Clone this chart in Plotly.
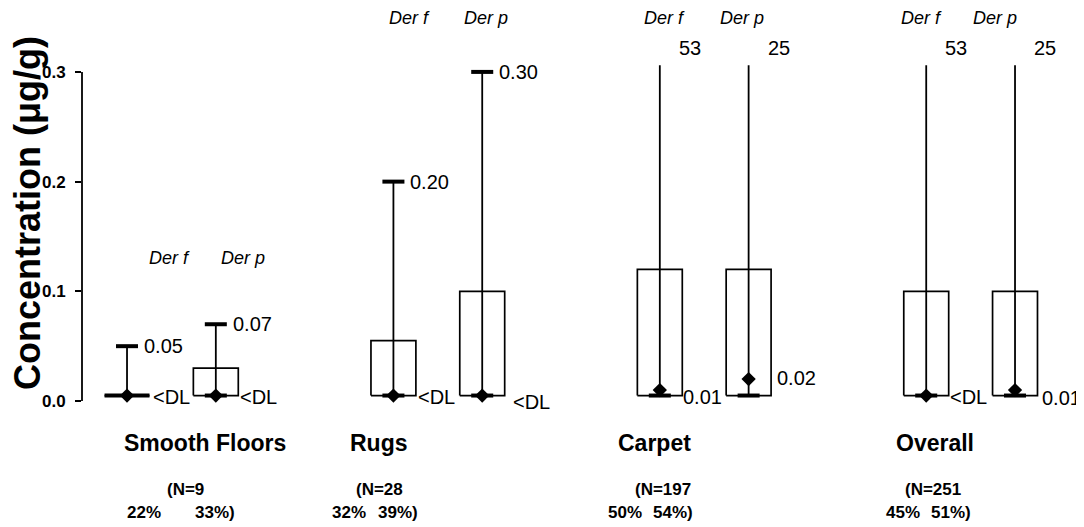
import plotly.graph_objects as go

# ---------------- data ----------------
groups = ["Smooth Floors", "Rugs", "Carpet", "Overall"]
n_samples = [9, 28, 197, 251]
allergens = ["Der f", "Der p"]
pct_detect_f = ["22%", "32%", "50%", "45%"]
pct_detect_p = ["33%)", "39%)", "54%)", "51%)"]

derf_min = [0.005, 0.005, 0.005, 0.005]
derf_q1 = [0.005, 0.005, 0.005, 0.005]
derf_median = [0.005, 0.005, 0.01, 0.005]
derf_q3 = [0.005, 0.055, 0.12, 0.10]
derf_max = [0.05, 0.20, 53, 53]
derf_median_label = ["<DL", "<DL", "0.01", "<DL"]

derp_min = [0.005, 0.005, 0.005, 0.005]
derp_q1 = [0.005, 0.005, 0.005, 0.005]
derp_median = [0.005, 0.005, 0.02, 0.01]
derp_q3 = [0.03, 0.10, 0.12, 0.10]
derp_max = [0.07, 0.30, 25, 25]
derp_median_label = ["<DL", "<DL", "0.02", "0.01"]

y_ticks = [0.0, 0.1, 0.2, 0.3]
y_ticktext = ["0.0", "0.1", "0.2", "0.3"]

# ---------------- style ----------------
FONT = "Liberation Sans, Arial, sans-serif"
PAGE_OFF = 8                      # default body margin of the html page
W, H = 1084 - PAGE_OFF, 527 - PAGE_OFF
ML, MR, MT, MB = 74, 20, 31, 115
UNIT = 88.8
XLO = -0.507
XHI = XLO + (W - ML - MR) / UNIT
YLO, YHI = -0.01, 0.33
AXIS_TOP = 0.3
TRUNC = 0.306          # off-scale whiskers stop just above the axis top
BOX_HW = 0.253
CAP_HW = 0.124


def paper_x(p):
    return (p - PAGE_OFF - ML) / (W - ML - MR)


def paper_y(p):
    return (H - MB - (p - PAGE_OFF)) / (H - MT - MB)


# label offsets (pixels)
der_label_dx = [[-1.5, 71.5], [-28.5, 48.5], [-39.5, 37.5], [-49.5, 24.5]]
der_label_py = [258, 18, 18, 18]
med_label_dx = [[2, -0.3], [0, 6], [-1.7, 4], [-0.3, 3]]
med_label_dy = [[-1.5, -1.5], [-1.5, -6.5], [-7, 1], [-1.5, -7.5]]
cat_dx = [34, -58.5, -50, -35.5]
n_dx = [-6.5, -83.5, -71.5, -67.5]
pf_dx = [-46.5, -107.5, -98.5, -86.5]
pp_dx = [21.5, -61.5, -53.5, -41.5]

fig = go.Figure()

series = [
    (derf_min, derf_q1, derf_median, derf_q3, derf_max, derf_median_label),
    (derp_min, derp_q1, derp_median, derp_q3, derp_max, derp_median_label),
]

annotations = []
VAL_FONT = dict(family=FONT, size=20, color="black")

for a, (mn, q1, med, q3, mx, mlab) in enumerate(series):
    for g in range(len(groups)):
        c = 3 * g + a
        top = mx[g] if mx[g] <= AXIS_TOP else TRUNC
        # box
        fig.add_trace(go.Scatter(
            x=[c - BOX_HW, c + BOX_HW, c + BOX_HW, c - BOX_HW, c - BOX_HW],
            y=[q1[g], q1[g], q3[g], q3[g], q1[g]],
            mode="lines", line=dict(color="black", width=1.7),
            hoverinfo="skip", showlegend=False))
        # whisker
        fig.add_trace(go.Scatter(
            x=[c, c], y=[mn[g], top], mode="lines",
            line=dict(color="black", width=1.8),
            hoverinfo="skip", showlegend=False))
        # min cap (box of zero height is drawn as a heavy bar)
        cap_w = BOX_HW if q1[g] == q3[g] else CAP_HW
        fig.add_trace(go.Scatter(
            x=[c - cap_w, c + cap_w], y=[mn[g], mn[g]], mode="lines",
            line=dict(color="black", width=4),
            hoverinfo="skip", showlegend=False))
        if mx[g] <= AXIS_TOP:
            fig.add_trace(go.Scatter(
                x=[c - CAP_HW, c + CAP_HW], y=[mx[g], mx[g]], mode="lines",
                line=dict(color="black", width=4),
                hoverinfo="skip", showlegend=False))
            annotations.append(dict(
                x=c, y=mx[g], xref="x", yref="y", text=f"{mx[g]:.2f}",
                xanchor="left", yanchor="middle", xshift=15, showarrow=False,
                font=VAL_FONT))
        else:
            annotations.append(dict(
                x=c, y=paper_y(48), xref="x", yref="paper", text=f"{mx[g]:g}",
                xanchor="center", yanchor="middle", xshift=30, showarrow=False,
                font=VAL_FONT))
        # median diamond
        fig.add_trace(go.Scatter(
            x=[c], y=[med[g]], mode="markers",
            marker=dict(symbol="diamond", size=11, color="black"),
            cliponaxis=False, hoverinfo="skip", showlegend=False))
        annotations.append(dict(
            x=c + BOX_HW, y=med[g], xref="x", yref="y", text=mlab[g],
            xanchor="left", yanchor="middle",
            xshift=med_label_dx[g][a], yshift=med_label_dy[g][a],
            showarrow=False, font=VAL_FONT))

for g, name in enumerate(groups):
    gc = 3 * g + 0.5
    for a, al in enumerate(allergens):
        annotations.append(dict(
            x=gc, y=paper_y(der_label_py[g]), xref="x", yref="paper",
            text=f"<i>{al}</i>", xanchor="center", yanchor="middle",
            xshift=der_label_dx[g][a], showarrow=False,
            font=dict(family=FONT, size=18, color="black")))
    annotations.append(dict(
        x=gc, y=paper_y(443), xref="x", yref="paper", text=f"<b>{name}</b>",
        xanchor="center", yanchor="middle", xshift=cat_dx[g], showarrow=False,
        font=dict(family=FONT, size=23, color="black")))
    annotations.append(dict(
        x=gc, y=paper_y(490), xref="x", yref="paper",
        text=f"<b>(N={n_samples[g]}</b>", xanchor="left", yanchor="middle",
        xshift=n_dx[g], showarrow=False,
        font=dict(family=FONT, size=17, color="black")))
    annotations.append(dict(
        x=gc, y=paper_y(512), xref="x", yref="paper",
        text=f"<b>{pct_detect_f[g]}</b>", xanchor="left", yanchor="middle",
        xshift=pf_dx[g], showarrow=False,
        font=dict(family=FONT, size=17, color="black")))
    annotations.append(dict(
        x=gc, y=paper_y(512), xref="x", yref="paper",
        text=f"<b>{pct_detect_p[g]}</b>", xanchor="left", yanchor="middle",
        xshift=pp_dx[g], showarrow=False,
        font=dict(family=FONT, size=17, color="black")))

# y-axis title
annotations.append(dict(
    x=paper_x(27), y=paper_y(213), xref="paper", yref="paper",
    text="<b>Concentration (μg/g)</b>", textangle=-90,
    xanchor="center", yanchor="middle", showarrow=False,
    font=dict(family=FONT, size=36, color="black")))

fig.update_layout(
    width=W, height=H,
    margin=dict(l=ML, r=MR, t=MT, b=MB, pad=0),
    paper_bgcolor="white", plot_bgcolor="white",
    showlegend=False,
    annotations=annotations,
    shapes=[dict(type="line", xref="paper", yref="y", x0=0, x1=0,
                 y0=0, y1=AXIS_TOP, line=dict(color="black", width=1.8))],
    xaxis=dict(range=[XLO, XHI], visible=False, fixedrange=True),
    yaxis=dict(range=[YLO, YHI], showline=False, showgrid=False,
               zeroline=False, tickvals=y_ticks, ticktext=y_ticktext,
               ticks="outside", ticklen=6, tickwidth=1.8, tickcolor="black",
               ticklabelstandoff=6,
               tickfont=dict(family=FONT, size=17, color="black", weight="bold"),
               fixedrange=True),
)

fig.write_html("out.html")
